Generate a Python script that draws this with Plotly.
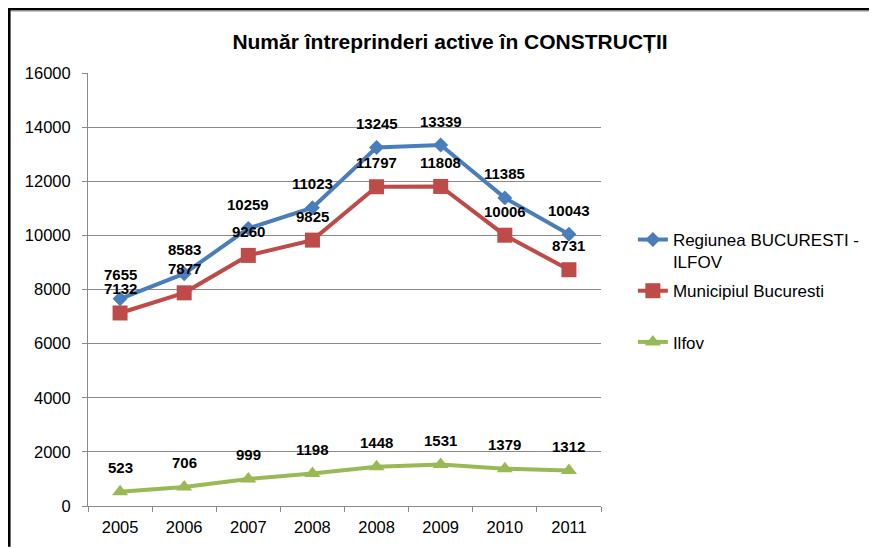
import plotly.graph_objects as go

categories = ["2005", "2006", "2007", "2008", "2008", "2009", "2010", "2011"]
regiunea = [7655, 8583, 10259, 11023, 13245, 13339, 11385, 10043]
municipiul = [7132, 7877, 9260, 9825, 11797, 11808, 10006, 8731]
ilfov = [523, 706, 999, 1198, 1448, 1531, 1379, 1312]
names = ["Regiunea BUCURESTI -<br>ILFOV", "Municipiul Bucuresti<br> ", "Ilfov<br> "]
ytick_vals = [0, 2000, 4000, 6000, 8000, 10000, 12000, 14000, 16000]
ytick_text = ["0", "2000", "4000", "6000", "8000", "10000", "12000", "14000", "16000"]

FONT = "Liberation Sans, Arial, sans-serif"
xs = list(range(len(categories)))

# figure geometry (page body adds an 8px offset)
W, H = 869, 540
L, R, T, B = 80, 274, 65, 39
PW, PH = W - L - R, H - T - B


def px_x(fx):
    return (fx - L) / PW


def px_y(fy):
    return (H - B - fy) / PH


fig = go.Figure()
series = [
    (regiunea, names[0], "#4A7EBB", dict(symbol="diamond", size=11.5)),
    (municipiul, names[1], "#BE4B48", dict(symbol="square", size=15)),
    (ilfov, names[2], "#98B954", dict(symbol="triangle-up", size=14)),
]
for i, (vals, name, color, mk) in enumerate(series):
    fig.add_trace(go.Scatter(
        x=xs, y=vals, name=name, mode="lines+markers",
        line=dict(color=color, width=4),
        marker=dict(color=color, **mk),
        legendgroup=f"g{i}", cliponaxis=False,
    ))
    for xi, v in zip(xs, vals):
        fig.add_annotation(x=xi, y=v, text=str(v), showarrow=False,
                           xanchor="center", yanchor="middle", yshift=24,
                           font=dict(family=FONT, size=15, color="#000000", weight="bold"))

grid = "#8A8A8A"
fig.update_layout(
    width=W, height=H,
    margin=dict(l=L, r=R, t=T, b=B),
    paper_bgcolor="white", plot_bgcolor="white",
    font=dict(family=FONT, size=16, color="#000000"),
    title=dict(text="<b>Număr întreprinderi active în CONSTRUCȚII</b>",
               x=442 / W, xref="container", xanchor="center",
               y=1 - 34 / H, yref="container", yanchor="middle",
               font=dict(family=FONT, size=21, color="#000000")),
    xaxis=dict(range=[-0.5, 7.5], tickvals=xs, ticktext=categories,
               ticks="", showgrid=False, showline=True, linecolor=grid, linewidth=1,
               tickfont=dict(size=16.5), zeroline=False, ticklabelstandoff=6,
               minor=dict(tick0=-0.5, dtick=1, ticks="outside", ticklen=5,
                          tickcolor=grid, showgrid=False)),
    yaxis=dict(range=[0, 16000], tickvals=ytick_vals, ticktext=ytick_text,
               ticks="outside", ticklen=5, tickcolor=grid,
               showgrid=True, gridcolor=grid, gridwidth=1,
               showline=True, linecolor=grid, linewidth=1, zeroline=False,
               tickfont=dict(size=16.5), ticklabelstandoff=8),
    legend=dict(x=px_x(627), xanchor="left", y=px_y(215), yanchor="top",
                valign="top", font=dict(size=17), tracegroupgap=4,
                traceorder="grouped", bgcolor="rgba(0,0,0,0)"),
    showlegend=True,
)

# frame border (top and left)
fig.add_shape(type="line", xref="paper", yref="paper",
              x0=px_x(-2), x1=px_x(W + 2), y0=px_y(0.5), y1=px_y(0.5),
              line=dict(color="#000000", width=2.5))
fig.add_shape(type="line", xref="paper", yref="paper",
              x0=px_x(2), x1=px_x(W + 2), y0=px_y(2.3), y1=px_y(2.3),
              line=dict(color="#8C8C8C", width=1.6))
fig.add_shape(type="line", xref="paper", yref="paper",
              x0=px_x(0.75), x1=px_x(0.75), y0=px_y(-2), y1=px_y(H + 2),
              line=dict(color="#000000", width=3))

fig.write_html("out.html")
